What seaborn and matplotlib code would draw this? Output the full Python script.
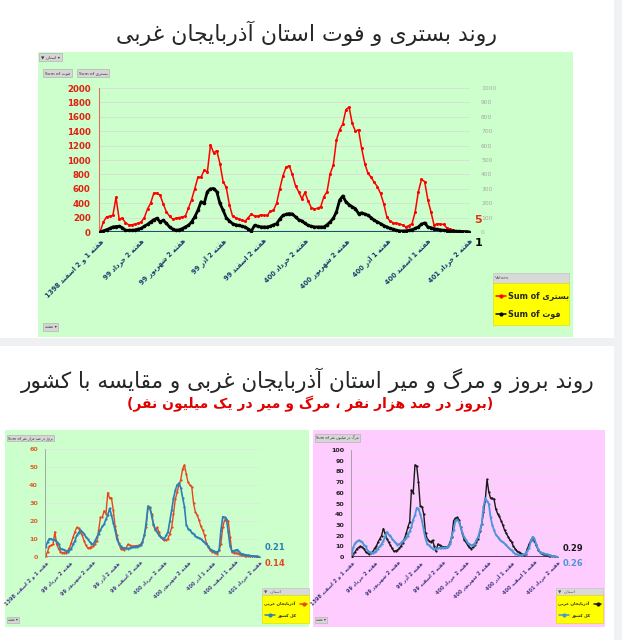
import re
import numpy as np
import pandas as pd
import matplotlib
matplotlib.use('Agg')
import matplotlib.pyplot as plt
from matplotlib.patches import Rectangle
import seaborn as sns

W, H = 622, 640

# weekly values, week 1-2 Esfand 1398 .. week 2 Khordad 1401
bastari = [10, 140, 210, 220, 230, 480, 180, 190, 130, 100,
           100, 110, 120, 140, 200, 320, 400, 540, 540, 510,
           390, 280, 220, 180, 190, 200, 210, 220, 330, 450,
           600, 760, 760, 860, 830, 1210, 1100, 1130, 950, 700,
           620, 380, 220, 200, 180, 160, 150, 200, 250, 220,
           220, 240, 230, 230, 290, 300, 400, 600, 780, 900,
           920, 800, 640, 560, 460, 550, 430, 340, 320, 330,
           350, 490, 560, 810, 930, 1280, 1420, 1500, 1700, 1735,
           1510, 1400, 1420, 1160, 950, 815, 760, 690, 630, 535,
           395, 210, 150, 130, 120, 115, 95, 70, 90, 115,
           280, 560, 730, 700, 450, 280, 95, 115, 110, 105,
           60, 40, 25, 15, 12, 10, 8, 5]

fot = [0, 8, 16, 25, 35, 38, 40, 30, 12, 12,
       12, 14, 20, 25, 40, 53, 70, 86, 95, 70,
       81, 60, 35, 20, 12, 15, 23, 35, 46, 70,
       105, 150, 210, 198, 280, 300, 302, 280, 198, 151,
       100, 77, 58, 50, 46, 40, 35, 20, 7, 46,
       40, 35, 35, 35, 40, 50, 58, 90, 115, 123,
       128, 125, 105, 85, 77, 60, 46, 40, 35, 35,
       35, 35, 50, 70, 95, 140, 221, 250, 210, 190,
       175, 163, 128, 133, 125, 116, 100, 81, 70, 58,
       45, 35, 25, 19, 12, 8, 7, 8, 12, 16,
       25, 35, 55, 63, 35, 30, 23, 18, 15, 12,
       10, 8, 7, 5, 4, 3, 2, 1]

# incidence per 100k
inc_wa = [0.5, 3, 6, 6.5, 7, 14, 7, 4.7, 3, 2.5,
          2.3, 2.2, 3.5, 5, 8, 11, 14, 16.4, 16, 14,
          12, 9, 6.5, 5, 5.2, 5.6, 6, 7, 9, 15,
          22, 22, 25.7, 24, 35.8, 32.6, 33, 26, 17, 12,
          8, 4.7, 4.3, 4.1, 5, 7, 6.5, 6, 6, 6.2,
          6.3, 6.5, 7, 8.4, 12, 16.8, 27, 27.6, 24, 18,
          15, 16.4, 14, 11, 10, 9.3, 9.5, 10.2, 13, 16.4,
          24, 32, 36, 40, 43, 49, 51.2, 46, 41.4, 40,
          39, 29.8, 25, 23.3, 20.5, 17, 15, 12, 8, 5.6,
          4, 3, 2.8, 2.3, 1.9, 4, 7.5, 16.8, 20.5, 21,
          20, 11, 2.8, 2.5, 2.2, 2, 1.7, 1.3, 1, 0.8,
          0.7, 0.6, 0.5, 0.4, 0.3, 0.25, 0.2, 0.14]

inc_ir = [5.6, 8.4, 10.2, 10, 9.7, 9.7, 8.5, 7.5, 4.7, 4.3,
          4.1, 3.5, 2.8, 3.8, 4.7, 7, 9, 12, 13.5, 15,
          14, 13, 11, 10, 8.5, 7.5, 7, 9, 11, 13,
          15, 17, 18.3, 21, 23.3, 27, 23.3, 19, 15, 10,
          7.5, 6, 5.2, 5, 4.8, 4.7, 5, 5.3, 5.6, 5.7,
          5.8, 6, 6.5, 8.4, 12, 18.6, 28.3, 27.5, 23, 18.6,
          15.5, 14, 12, 11, 10.4, 10.2, 12, 14, 20, 26,
          32.6, 37, 40, 41, 38.5, 33, 28, 18, 15.8, 15,
          13.5, 13, 11.5, 11, 10.5, 10.2, 9, 8, 7.5, 6,
          4.5, 3.7, 3.2, 2.9, 2.8, 3.7, 15, 22.4, 22, 21,
          14, 6, 3.2, 3.4, 3.8, 4.1, 3, 1.9, 1.6, 1.3,
          1.1, 1, 0.8, 0.6, 0.5, 0.4, 0.3, 0.21]

# deaths per million
death_wa = [0, 3, 5, 7.8, 9, 10, 9, 7.8, 4.7, 3.5,
            3, 4, 5, 8, 10, 14, 17, 20, 26.5, 22,
            17, 14, 11, 8, 5.3, 5.8, 6.2, 8, 10, 13,
            17, 22, 28, 33, 62.5, 60, 86, 85, 70, 48,
            47, 40, 22, 17, 15, 14, 15.6, 10, 5.3, 12,
            11, 10, 9.5, 9.4, 9.5, 10, 14, 19, 34, 36,
            37, 35, 28, 22, 16, 14, 11, 9, 7.8, 9,
            11, 14, 17, 24, 31, 42, 53, 72.5, 61, 55,
            54.7, 54, 45, 40.6, 38, 34, 30, 25, 22, 19,
            16, 14, 10, 7.8, 5.5, 4.5, 3.8, 2.5, 1.6, 3,
            7.8, 12, 15.6, 18, 15, 11, 7, 4.7, 3.5, 2.5,
            2.2, 1.8, 1.4, 0.9, 0.7, 0.5, 0.4, 0.29]

death_ir = [3, 9.4, 13, 14.5, 15.6, 15, 14, 11, 10, 6,
            5, 3.8, 4, 4.7, 6, 7.8, 10, 12, 15, 19,
            23.4, 21, 20, 17, 15, 13, 11.6, 12, 13, 15,
            16, 18, 20, 24, 28, 35, 39, 46, 45, 40,
            34, 25, 17, 12, 11, 9, 7.8, 7.8, 7.8, 8,
            8.5, 8.8, 8.8, 8.8, 9, 10, 12.5, 20, 25, 34,
            35, 33, 28, 22, 19, 16, 13, 12, 11, 11.5,
            12.5, 16, 19, 25, 31, 47, 55, 52, 50, 37.5,
            30, 25, 21, 19, 17, 15, 14, 12.5, 11, 9,
            7.5, 6.2, 4.5, 3, 2.5, 2, 1.6, 2, 2.5, 3,
            6, 8.8, 15, 19, 17, 12, 7.8, 5, 4, 3.5,
            3, 2.5, 2.2, 1.6, 1.1, 0.7, 0.4, 0.26]

tick_weeks = [0, 13, 26, 39, 52, 65, 78, 91, 104, 117]
tick_labels = ['هفته 1 و 2 اسفند 1398', 'هفته 2 خرداد 99', 'هفته 2 شهریور 99',
               'هفته 2 آذر 99', 'هفته 2 اسفند 99', 'هفته 2 خرداد 400',
               'هفته 2 شهریور 400', 'هفته 1 آذر 400', 'هفته 1 اسفند 400',
               'هفته 2 خرداد 401']

title_top = 'روند بستری و فوت استان آذربایجان غربی'
title_bottom = 'روند بروز و مرگ و میر استان آذربایجان غربی و مقایسه با کشور'
subtitle = '(بروز در صد هزار نفر ، مرگ و میر در یک میلیون نفر)'

# arabic letter forms: isolated, final, initial, medial
FORMS = {
    'ا': (0xFE8D, 0xFE8E), 'آ': (0xFE81, 0xFE82),
    'ب': (0xFE8F, 0xFE90, 0xFE91, 0xFE92), 'پ': (0xFB56, 0xFB57, 0xFB58, 0xFB59),
    'ت': (0xFE95, 0xFE96, 0xFE97, 0xFE98), 'ث': (0xFE99, 0xFE9A, 0xFE9B, 0xFE9C),
    'ج': (0xFE9D, 0xFE9E, 0xFE9F, 0xFEA0), 'چ': (0xFB7A, 0xFB7B, 0xFB7C, 0xFB7D),
    'ح': (0xFEA1, 0xFEA2, 0xFEA3, 0xFEA4), 'خ': (0xFEA5, 0xFEA6, 0xFEA7, 0xFEA8),
    'د': (0xFEA9, 0xFEAA), 'ذ': (0xFEAB, 0xFEAC), 'ر': (0xFEAD, 0xFEAE),
    'ز': (0xFEAF, 0xFEB0), 'ژ': (0xFB8A, 0xFB8B),
    'س': (0xFEB1, 0xFEB2, 0xFEB3, 0xFEB4), 'ش': (0xFEB5, 0xFEB6, 0xFEB7, 0xFEB8),
    'ص': (0xFEB9, 0xFEBA, 0xFEBB, 0xFEBC), 'ض': (0xFEBD, 0xFEBE, 0xFEBF, 0xFEC0),
    'ط': (0xFEC1, 0xFEC2, 0xFEC3, 0xFEC4), 'ظ': (0xFEC5, 0xFEC6, 0xFEC7, 0xFEC8),
    'ع': (0xFEC9, 0xFECA, 0xFECB, 0xFECC), 'غ': (0xFECD, 0xFECE, 0xFECF, 0xFED0),
    'ف': (0xFED1, 0xFED2, 0xFED3, 0xFED4), 'ق': (0xFED5, 0xFED6, 0xFED7, 0xFED8),
    'ک': (0xFB8E, 0xFB8F, 0xFB90, 0xFB91), 'ك': (0xFB8E, 0xFB8F, 0xFB90, 0xFB91),
    'گ': (0xFB92, 0xFB93, 0xFB94, 0xFB95),
    'ل': (0xFEDD, 0xFEDE, 0xFEDF, 0xFEE0), 'م': (0xFEE1, 0xFEE2, 0xFEE3, 0xFEE4),
    'ن': (0xFEE5, 0xFEE6, 0xFEE7, 0xFEE8), 'و': (0xFEED, 0xFEEE),
    'ه': (0xFEE9, 0xFEEA, 0xFEEB, 0xFEEC),
    'ی': (0xFBFC, 0xFBFD, 0xFBFE, 0xFBFF), 'ي': (0xFBFC, 0xFBFD, 0xFBFE, 0xFBFF),
}


def fa(text):
    # poor man's reshaper + bidi, no arabic_reshaper available
    out = []
    for i, ch in enumerate(text):
        f = FORMS.get(ch)
        if f is None:
            out.append(ch)
            continue
        prev = text[i - 1] if i > 0 else ''
        nxt = text[i + 1] if i + 1 < len(text) else ''
        jp = prev in FORMS and len(FORMS[prev]) == 4
        jn = nxt in FORMS and len(f) == 4
        if jp and jn:
            c = f[3]
        elif jp:
            c = f[1]
        elif jn:
            c = f[2]
        else:
            c = f[0]
        out.append(chr(c))
    s = ''.join(out)[::-1]
    s = re.sub(r'[0-9A-Za-z.]+', lambda m: m.group(0)[::-1], s)
    return s.translate(str.maketrans('()', ')('))


sns.set_theme(style='white')
plt.rcParams['font.family'] = ['DejaVu Sans']

df = pd.DataFrame({'week': np.arange(len(bastari)), 'bastari': bastari, 'fot': fot,
                   'inc_wa': inc_wa, 'inc_ir': inc_ir,
                   'death_wa': death_wa, 'death_ir': death_ir})

fig = plt.figure(figsize=(W / 100, H / 100), dpi=100)
bg = fig.add_axes([0, 0, 1, 1])
bg.set_xlim(0, W)
bg.set_ylim(H, 0)
bg.axis('off')


def px_rect(x0, y0, x1, y1):
    return [x0 / W, 1 - y1 / H, (x1 - x0) / W, (y1 - y0) / H]


def box(x0, y0, x1, y1, fc, ec='none', lw=0):
    bg.add_patch(Rectangle((x0, y0), x1 - x0, y1 - y0, fc=fc, ec=ec, lw=lw))


def button(x, y, s, fs=3.2):
    bg.text(x, y, s, fontsize=fs, ha='left', va='center', color='#333333',
            bbox=dict(boxstyle='square,pad=0.35', fc='#d6d6d6', ec='#a8a8a8', lw=0.4))


def legend_box(x0, y0, x1, y1, header, rows, fs):
    box(x0, y0, x1, y0 + (y1 - y0) * 0.2, '#d9d9d9', '#bdbdbd', 0.4)
    box(x0, y0 + (y1 - y0) * 0.2, x1, y1, '#ffff00', '#d8d800', 0.4)
    bg.text(x0 + 2, y0 + (y1 - y0) * 0.1, header, fontsize=3.2, va='center', color='#555555')
    for k, (label, color, side) in enumerate(rows):
        yy = y0 + (y1 - y0) * (0.45 + 0.33 * k)
        if side == 'left':
            lx = [x0 + 3, x0 + 8, x0 + 13]
            bg.text(x0 + 15, yy, label, fontsize=fs, fontweight='bold', va='center')
        else:
            lx = [x1 - 9, x1 - 5.5, x1 - 2]
            bg.text(x0 + 2, yy, label, fontsize=fs, fontweight='bold', va='center', ha='left')
        bg.plot(lx, [yy] * 3, color=color, lw=1.1, marker='o', ms=2.0, markevery=[1])


# backgrounds
box(614, 0, 622, 640, '#f1f2f4')
box(0, 338, 614, 346, '#eef0f2')
box(38, 52, 573, 337, '#ccffcc')
box(5, 430, 309, 627, '#ccffcc')
box(313, 430, 605, 627, '#ffccff')

bg.text(306, 33, fa(title_top), ha='center', va='center', fontsize=15.8)
bg.text(308, 380, fa(title_bottom), ha='center', va='center', fontsize=15.6)
bg.text(310, 404, fa(subtitle), ha='center', va='center', fontsize=10,
        fontweight='bold', color='#e00000')

button(41, 57, '▼ ' + fa('استان') + ' ▾')
button(45, 73, 'Sum of ' + fa('فوت'))
button(79, 73, 'Sum of ' + fa('بستری'))
button(45, 327, fa('هفته') + ' ▾')
button(8, 438, 'Sum of ' + fa('بروز در صد هزار نفر'), fs=2.6)
button(8, 620, fa('هفته') + ' ▾', fs=2.6)
button(316, 438, 'Sum of ' + fa('مرگ در میلیون نفر'), fs=2.6)
button(316, 620, fa('هفته') + ' ▾', fs=2.6)


def style_x(ax, fs, color):
    ax.set_xticks(tick_weeks)
    ax.set_xticklabels([fa(t) for t in tick_labels], rotation=45, ha='right',
                       rotation_mode='anchor', fontsize=fs, fontweight='bold', color=color)
    ax.set_xlim(-0.4, len(bastari) - 0.6)
    ax.tick_params(axis='both', length=0)
    ax.set_xlabel('')
    ax.set_ylabel('')
    for sp in ['top', 'right', 'bottom']:
        ax.spines[sp].set_visible(False)
    ax.patch.set_alpha(0)


# top chart: hospitalised (left) and deaths (right)
ax = fig.add_axes(px_rect(99, 88, 470, 232))
sns.lineplot(data=df, x='week', y='bastari', ax=ax, color='#ff0000', lw=1.1,
             marker='o', markersize=2.2, markeredgewidth=0)
ax.set_ylim(0, 2000)
ax.set_yticks(range(0, 2001, 200))
ax.tick_params(axis='y', labelsize=6.2, labelcolor='#e02010', pad=6)
for t in ax.get_yticklabels():
    t.set_fontweight('bold')
ax.grid(axis='y', color='#d6ded6', lw=0.6)
ax.set_axisbelow(True)
ax.spines['left'].set_color('#e07060')
ax.spines['left'].set_linewidth(0.8)
style_x(ax, 4.8, '#1f3a6e')
ax.tick_params(axis='x', pad=4)
ax.axhline(0, color='#1f4e6e', lw=1.5, zorder=1)
ax.annotate(f'{bastari[-1]}', (df.week.iloc[-1], bastari[-1]), xytext=(4, 6),
            textcoords='offset points', color='#e03010', fontsize=8, fontweight='bold',
            annotation_clip=False)

ax2 = ax.twinx()
sns.lineplot(data=df, x='week', y='fot', ax=ax2, color='black', lw=2.0,
             marker='o', markersize=2.6, markeredgewidth=0)
ax2.set_ylim(0, 1000)
ax2.set_yticks(range(0, 1001, 100))
ax2.tick_params(axis='y', labelsize=4.3, labelcolor='#a8a8a8', length=0, pad=8)
ax2.set_ylabel('')
for sp in ax2.spines.values():
    sp.set_visible(False)
ax2.annotate(f'{fot[-1]}', (df.week.iloc[-1], fot[-1]), xytext=(4, -10),
             textcoords='offset points', color='black', fontsize=8, fontweight='bold',
             annotation_clip=False)

legend_box(493, 273, 569, 325, 'Values',
           [('Sum of ' + fa('بستری'), '#ff0000', 'left'),
            ('Sum of ' + fa('فوت'), 'black', 'left')], 5.8)


def small_chart(rect, cols, colors, lws, ymax, ycolor, xcolor, axcolor, ends):
    a = fig.add_axes(px_rect(*rect))
    for col, c, lw in zip(cols, colors, lws):
        sns.lineplot(data=df, x='week', y=col, ax=a, color=c, lw=lw,
                     marker='o', markersize=1.6, markeredgewidth=0)
    a.set_ylim(0, ymax)
    a.set_yticks(range(0, ymax + 1, 10))
    a.tick_params(axis='y', labelsize=4.6, labelcolor=ycolor, pad=5)
    for t in a.get_yticklabels():
        t.set_fontweight('bold')
    a.grid(axis='y', color='#e2e2e2', lw=0.4)
    a.set_axisbelow(True)
    a.spines['left'].set_color('#9a9a9a')
    a.spines['left'].set_linewidth(0.6)
    style_x(a, 3.6, xcolor)
    a.tick_params(axis='x', pad=2)
    a.axhline(0, color=axcolor, lw=1.2, zorder=1)
    for col, c, dy in ends:
        v = df[col].iloc[-1]
        a.annotate(f'{v:.2f}', (df.week.iloc[-1], v), xytext=(4, dy),
                   textcoords='offset points', color=c, fontsize=6, fontweight='bold',
                   annotation_clip=False)
    return a


small_chart((45, 449, 260, 557), ['inc_wa', 'inc_ir'], ['#e8461e', '#2d7fb8'], [1.0, 1.2],
            60, '#e0602a', '#4b3f8c', '#8a90b0',
            [('inc_ir', '#2d7fb8', 5), ('inc_wa', '#e8461e', -7)])
small_chart((351, 450, 558, 557), ['death_wa', 'death_ir'], ['#1a1a1a', '#4e95d8'], [1.0, 1.3],
            100, '#222222', '#3f3a80', '#4a2050',
            [('death_wa', '#1a1a1a', 4), ('death_ir', '#4e95d8', -7)])

legend_box(262, 588, 309, 623, '▼  ' + fa('استان'),
           [(fa('آذربایجان غربی'), '#e8461e', 'right'),
            (fa('کل کشور'), '#2d7fb8', 'left')], 3.0)
legend_box(556, 588, 603, 623, '▼  ' + fa('استان'),
           [(fa('آذربایجان غربی'), '#1a1a1a', 'right'),
            (fa('کل کشور'), '#4e95d8', 'left')], 3.0)

fig.savefig('out.png', dpi=100)
